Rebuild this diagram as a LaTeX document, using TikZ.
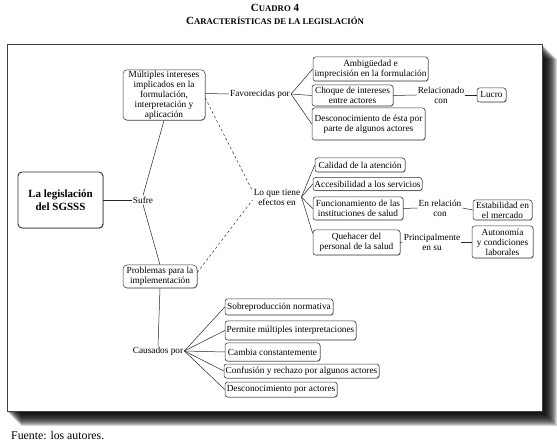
\documentclass[tikz,border=0pt]{standalone}
\usepackage{fontspec}
\setmainfont{Liberation Serif}
\usetikzlibrary{shadows}
\newcommand{\dfont}{\fontsize{9.3}{10}\selectfont}
\newcommand{\bigsc}{\fontsize{11}{13}\selectfont}
\newcommand{\smlsc}{\fontsize{8.7}{13}\selectfont}
\begin{document}
\begin{tikzpicture}[x=1pt,y=-1pt,
  every node/.style={font=\dfont, inner sep=1pt, text=black},
  bx/.style 2 args={draw=black!80, line width=0.5pt, rounded corners=2.5pt, fill=white,
    minimum width=#1pt, minimum height=#2pt, align=center,
    drop shadow={shadow xshift=0.6pt, shadow yshift=-0.6pt, fill=black!60, opacity=0.6}},
  lbl/.style={align=center},
  ln/.style={draw=black!85, line width=0.5pt},
  dsh/.style={ln, dash pattern=on 2.5pt off 2.5pt}]

% canvas
\fill[white] (0,0) rectangle (557,446);
\useasboundingbox (0,0) rectangle (557,446);

% title
\node[font=\bfseries] (t1) at (275,8) {{\bigsc C}{\smlsc UADRO}{\bigsc\ 4}};
\node[font=\bfseries] (t2) at (275,21) {{\bigsc C}{\smlsc ARACTERÍSTICAS DE LA LEGISLACIÓN}};

% frame with shadow
\foreach \k in {1,...,15} {
  \fill[black, fill opacity=0.16] (6+\k,44+\k) rectangle (542+\k,411+\k);
}
\draw[line width=0.8pt, draw=black!75, fill=white] (7,44) rectangle (542,411);

% main nodes
\node[bx={85}{56}, line width=0.9pt, rounded corners=4pt, font=\fontsize{11}{12.5}\selectfont\bfseries] (leg) at (60.5,200) {La legislación\\del SGSSS};
\node[lbl] (sufre) at (143,200) {Sufre};
\node[bx={82}{50}, rounded corners=4pt] (mult) at (164,95) {Múltiples intereses\\implicados en la\\formulación,\\interpretación y\\aplicación};
\node[bx={74}{23}, rounded corners=4pt] (prob) at (160,276.5) {Problemas para la\\implementación};
\node[lbl] (caus) at (158,351) {Causados por};
\node[lbl] (fav) at (260,94) {Favorecidas por};
\node[lbl] (lo) at (277,197) {Lo que tiene\\efectos en};

% favorecidas group
\node[bx={115}{24}] (amb) at (370.5,69) {Ambigüedad e\\imprecisión en la formulación};
\node[bx={81}{21}] (choq) at (352.5,95.5) {Choque de intereses\\entre actores};
\node[bx={113}{32}] (desc) at (368.5,124) {Desconocimiento de ésta por\\parte de algunos actores};
\node[lbl] (relac) at (441,95) {Relacionado\\con};
\node[bx={29}{14}] (lucro) at (491.5,95) {Lucro};

% efectos group
\node[bx={90}{14}] (cal) at (360,165) {Calidad de la atención};
\node[bx={109}{13}] (acc) at (367.5,184) {Accesibilidad a los servicios};
\node[bx={90}{23}] (func) at (358,208.5) {Funcionamiento de las\\instituciones de salud};
\node[lbl] (enrel) at (440,208) {En relación\\con};
\node[bx={59}{20}] (estab) at (502.5,210) {Estabilidad en\\el mercado};
\node[bx={87}{25}] (queh) at (356.5,242.5) {Quehacer del\\personal de la salud};
\node[lbl] (princ) at (432,242) {Principalmente\\en su};
\node[bx={61}{32}] (auton) at (502.5,242) {Autonomía\\y condiciones\\laborales};

% causados group
\node[bx={108}{16}] (sobre) at (279,307) {Sobreproducción normativa};
\node[bx={131}{19}] (perm) at (290.5,330.5) {Permite múltiples interpretaciones};
\node[bx={95}{18}] (camb) at (272.5,352) {Cambia constantemente};
\node[bx={155}{14}] (conf) at (301.5,371) {Confusión y rechazo por algunos actores};
\node[bx={112}{15}] (despor) at (281,389.5) {Desconocimiento por actores};

% source
\node[anchor=west, font=\fontsize{11.8}{13}\selectfont] (fuente) at (10,435) {Fuente: los autores.};

% connectors
\draw[ln] (leg.east) -- (sufre.west);
\draw[ln] (sufre.north) -- (mult.south);
\draw[ln] (sufre.south) -- (prob.north);
\draw[ln] (prob.south) -- (caus.north);
\draw[ln] ([yshift=1.5pt]mult.east) -- (fav.west);
\draw[dsh] ([yshift=-3pt]mult.east) -- ([yshift=6pt]lo.west);
\draw[dsh] ([yshift=4pt]prob.east) -- ([yshift=-3pt]lo.west);

\foreach \t in {amb,choq,desc} \draw[ln] (fav.east) -- (\t.west);
\draw[ln] (choq.east) -- (relac.west);
\draw[ln] (relac.east) -- (lucro.west);

\foreach \t in {cal,acc,func} \draw[ln] (lo.east) -- (\t.west);
\draw[ln] (lo.east) -- ([yshift=9pt]queh.west);
\draw[ln] (func.east) -- (enrel.west);
\draw[ln] (enrel.east) -- (estab.west);
\draw[ln] (queh.east) -- (princ.west);
\draw[ln] (princ.east) -- (auton.west);

\foreach \t in {sobre,perm,camb,conf,despor} \draw[ln] (caus.east) -- (\t.west);
\end{tikzpicture}
\end{document}
